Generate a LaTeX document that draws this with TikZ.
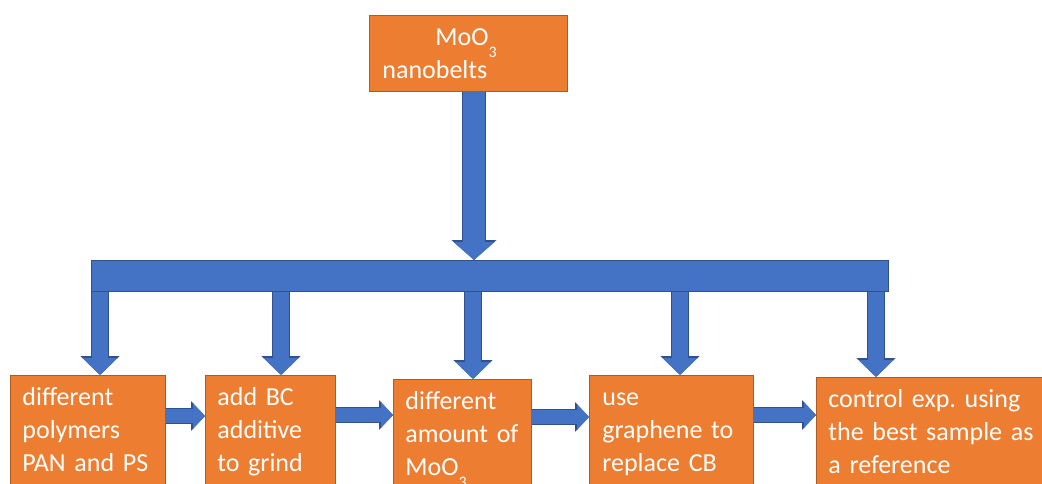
\documentclass[tikz,border=0pt]{standalone}
\usepackage{fontspec}
\setmainfont{Carlito}
\frenchspacing
\usetikzlibrary{arrows.meta}
\definecolor{BoxOrange}{HTML}{ED7D31}
\definecolor{BoxEdge}{HTML}{AE5A21}
\definecolor{FlowBlue}{HTML}{4472C4}
\definecolor{FlowEdge}{HTML}{2F528F}
\tikzstyle{TopNode}=[draw=BoxEdge, fill=BoxOrange, text=white, anchor=north west, align=left, inner xsep=6.5pt, text width=86pt, minimum height=38pt, font=\fontsize{13}{16.5}\selectfont]
\tikzstyle{StepNode}=[draw=BoxEdge, fill=BoxOrange, text=white, anchor=north west, align=left, inner xsep=6pt, inner ysep=5.5pt, text height=9.5pt, text depth=45pt, font=\fontsize{13}{16.5}\selectfont]
\tikzstyle{BusBar}=[draw=FlowEdge, fill=FlowBlue, anchor=north west, inner sep=0pt, minimum width=398.5pt, minimum height=15.5pt]
\tikzstyle{MainArrow}=[FlowBlue, line width=11pt, -{Triangle[width=20pt,length=9pt]}, preaction={draw=FlowEdge, line width=12pt, -{Triangle[width=22pt,length=10pt]}}]
\tikzstyle{DropArrow}=[FlowBlue, line width=8pt, -{Triangle[width=17pt,length=8.5pt]}, preaction={draw=FlowEdge, line width=9pt, -{Triangle[width=19pt,length=9.5pt]}}]
\tikzstyle{NextArrow}=[FlowBlue, line width=7pt, -{Triangle[width=12.5pt,length=6pt]}, preaction={draw=FlowEdge, line width=8pt, -{Triangle[width=14.5pt,length=7pt]}}]
\newcommand{\lowthree}{\raisebox{-6pt}{\fontsize{8}{9}\selectfont 3}}

\begin{document}
\begin{tikzpicture}[x=0.5pt, y=-0.5pt]
      \useasboundingbox (0,0) rectangle (1042,483);
      \clip (0,0) rectangle (1042,483);
      \node[TopNode] (0) at (369,15) {\hspace*{26.5pt}MoO\lowthree\\nanobelts};
      \node[BusBar] (bar) at (91,260) {};
      \node[StepNode, text width=65.5pt] (1) at (10,375) {different\\polymers\\PAN and PS};
      \node[StepNode, text width=53pt] (2) at (205,375) {add BC\\additive\\to grind};
      \node[StepNode, text width=57pt] (3) at (393,379) {different\\amount of\\MoO\lowthree};
      \node[StepNode, text width=69pt, inner xsep=6.5pt] (4) at (589,375) {use\\graphene to\\replace CB};
      \node[StepNode, text width=103pt] (5) at (816,377) {control exp. using\\the best sample as\\a reference};
      \draw[MainArrow] (474,0 |- 0.south) -- (474,0 |- bar.north);
      \foreach \x/\n in {100/1,281/2,473/3,680/4,876/5}
        \draw[DropArrow] (\x,0 |- bar.south) -- (\x,0 |- \n.north);
      \draw[NextArrow] (1.east |- 0,416) -- (2.west |- 0,416);
      \draw[NextArrow] (2.east |- 0,415) -- (3.west |- 0,415);
      \draw[NextArrow] (3.east |- 0,417) -- (4.west |- 0,417);
      \draw[NextArrow] (4.east |- 0,415) -- (5.west |- 0,415);
    \end{tikzpicture}
\end{document}
